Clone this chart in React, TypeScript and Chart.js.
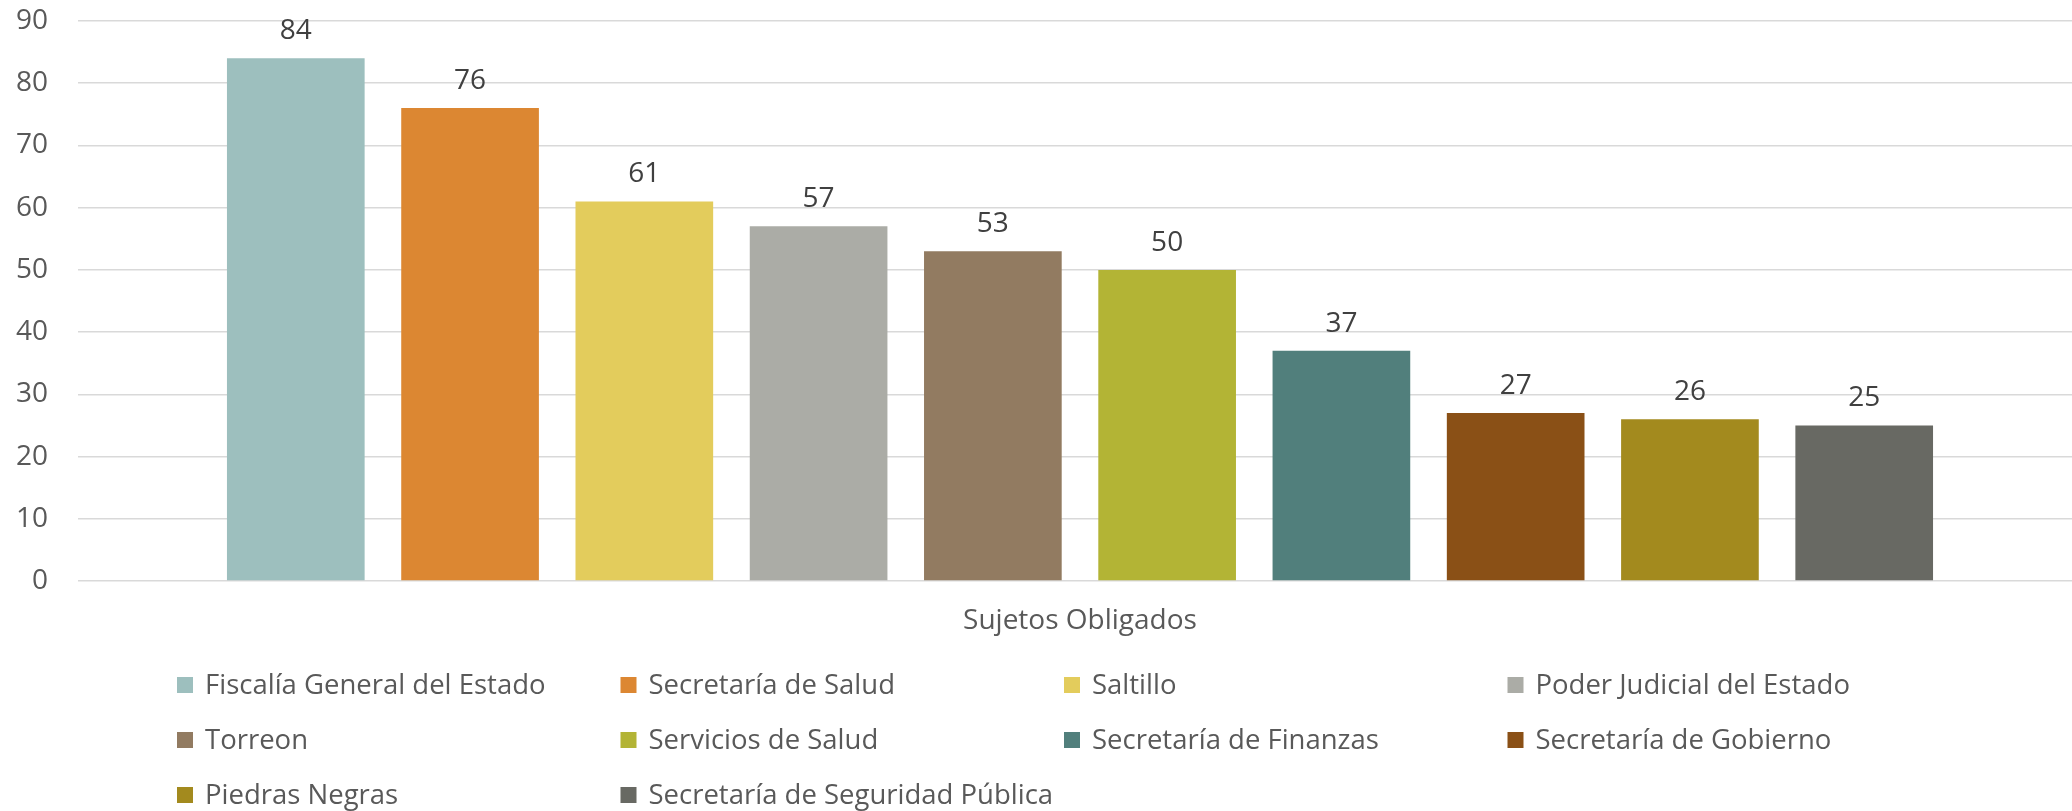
import React, { useEffect, useRef } from "react";
import { Chart, registerables } from "chart.js";

Chart.register(...registerables);

const categories = ["Sujetos Obligados"];
const seriesNames = [
  "Fiscalía General del Estado",
  "Secretaría de Salud",
  "Saltillo",
  "Poder Judicial del Estado",
  "Torreon",
  "Servicios de Salud",
  "Secretaría de Finanzas",
  "Secretaría de Gobierno",
  "Piedras Negras",
  "Secretaría de Seguridad Pública",
];
const seriesValues = [84, 76, 61, 57, 53, 50, 37, 27, 26, 25];
const seriesColors = [
  "#9DBFBE",
  "#DC8732",
  "#E3CC5C",
  "#ABACA6",
  "#927B61",
  "#B3B435",
  "#517F7C",
  "#8A5016",
  "#A38A1E",
  "#686963",
];
const yMax = 90;
const yStep = 10;

const FONT = "'Open Sans', 'DejaVu Sans', sans-serif";
const CANVAS_W = 2082;
const CANVAS_H = 811;

const valueLabels = {
  id: "valueLabels",
  afterDatasetsDraw(chart: any) {
    const ctx = chart.ctx;
    ctx.save();
    ctx.font = `28px ${FONT}`;
    ctx.fillStyle = "#404040";
    ctx.textAlign = "center";
    ctx.textBaseline = "alphabetic";
    chart.data.datasets.forEach((ds: any, i: number) => {
      const meta = chart.getDatasetMeta(i);
      meta.data.forEach((bar: any, j: number) => {
        ctx.fillText(String(ds.data[j]), bar.x, bar.y - 19);
      });
    });
    ctx.restore();
  },
};

const gridLegend = {
  id: "gridLegend",
  afterDraw(chart: any, _args: any, opts: any) {
    const ctx = chart.ctx;
    ctx.save();
    ctx.font = `${opts.fontSize}px ${FONT}`;
    ctx.textBaseline = "middle";
    ctx.textAlign = "left";
    chart.data.datasets.forEach((ds: any, i: number) => {
      const col = i % opts.cols;
      const row = Math.floor(i / opts.cols);
      const x = opts.left + col * opts.colWidth;
      const y = opts.top + row * opts.rowHeight;
      ctx.fillStyle = ds.backgroundColor;
      ctx.fillRect(x, y - opts.box / 2, opts.box, opts.box);
      ctx.fillStyle = "#595959";
      ctx.fillText(ds.label, x + opts.textGap, y + 1);
    });
    ctx.restore();
  },
};

export default function App() {
  const ref = useRef<HTMLCanvasElement | null>(null);

  useEffect(() => {
    if (!ref.current) return;
    const chart = new Chart(ref.current, {
      type: "bar",
      data: {
        labels: categories,
        datasets: seriesNames.map((name, i) => ({
          label: name,
          data: [seriesValues[i]],
          backgroundColor: seriesColors[i],
          borderWidth: 0,
          categoryPercentage: 0.8696,
          barPercentage: 0.79,
        })),
      },
      options: {
        responsive: false,
        animation: false,
        layout: { padding: { top: 21, right: 0, bottom: 170, left: 0 } },
        plugins: {
          legend: { display: false },
          tooltip: { enabled: false },
          gridLegend: {
            cols: 4,
            left: 177,
            colWidth: 443.5,
            top: 685,
            rowHeight: 55,
            box: 16,
            textGap: 28,
            fontSize: 27.5,
          },
        } as any,
        scales: {
          x: {
            grid: { display: false, drawTicks: false },
            border: { display: false },
            ticks: {
              color: "#595959",
              font: { family: FONT, size: 28 },
              padding: 23,
            },
            afterFit: (s: any) => {
              s.height = 60;
            },
          },
          y: {
            min: 0,
            max: yMax,
            grid: { color: "#D9D9D9", lineWidth: 1.5, drawTicks: false },
            border: { display: false },
            ticks: {
              stepSize: yStep,
              color: "#595959",
              font: { family: FONT, size: 28 },
              padding: 30,
            },
            afterFit: (s: any) => {
              s.width = 78;
              s.paddingTop = 15;
              s.paddingBottom = 15;
            },
          },
        },
      },
      plugins: [valueLabels, gridLegend],
    });
    return () => chart.destroy();
  }, []);

  return (
    <div
      style={{
        position: "fixed",
        left: 0,
        top: 0,
        width: 2072,
        height: 811,
        overflow: "hidden",
        background: "#fff",
      }}
    >
      <canvas
        ref={ref}
        width={CANVAS_W}
        height={CANVAS_H}
        style={{ width: CANVAS_W, height: CANVAS_H, display: "block" }}
      />
    </div>
  );
}
